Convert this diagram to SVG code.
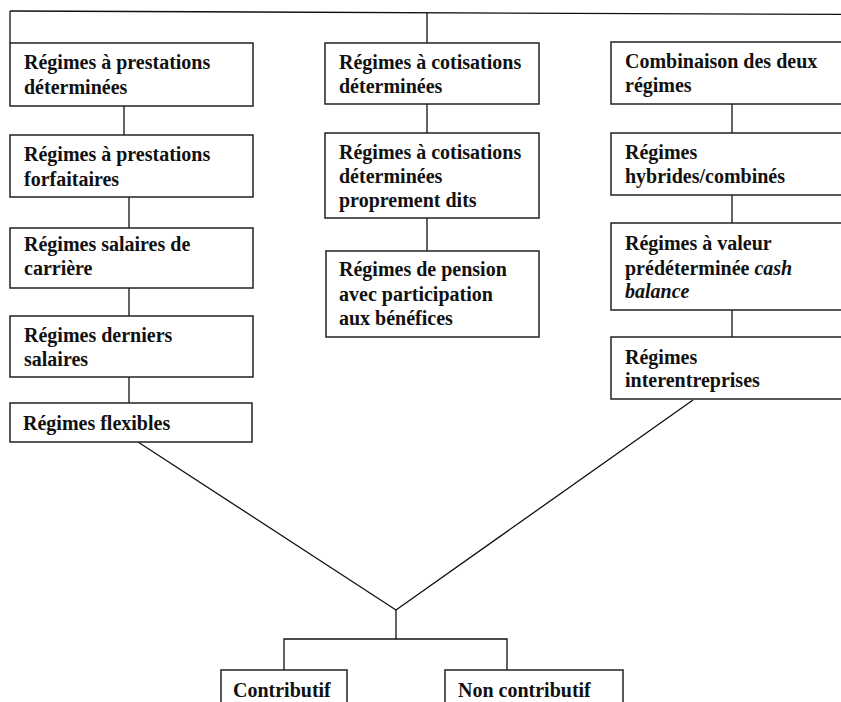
<svg xmlns="http://www.w3.org/2000/svg" width="841" height="702" viewBox="0 0 841 702">
<style>
rect.box{fill:#fff;stroke:#222;stroke-width:1.5}
.c line,.c polyline{stroke:#111;stroke-width:1.3;fill:none}
text{font-family:"Liberation Serif","Times New Roman",serif;font-weight:bold;font-size:20px;fill:#111}
.it{font-style:italic}
</style>
<rect width="841" height="702" fill="#fff"/>
<g id="connectors" class="c">
<line x1="10" y1="11" x2="850" y2="14.5"/>
<line x1="10" y1="11" x2="10" y2="43"/>
<line x1="427" y1="12.7" x2="427" y2="43"/>
<line x1="124" y1="106" x2="124" y2="135"/>
<line x1="129" y1="197" x2="129" y2="228"/>
<line x1="129" y1="288" x2="129" y2="316"/>
<line x1="129" y1="377" x2="129" y2="403"/>
<line x1="427" y1="104" x2="427" y2="133"/>
<line x1="427" y1="218" x2="427" y2="251"/>
<line x1="732" y1="104" x2="732" y2="133"/>
<line x1="732" y1="195" x2="732" y2="223"/>
<line x1="732" y1="308" x2="732" y2="337"/>
<polyline points="138,442 396,610 693,400"/>
<line x1="396" y1="610" x2="396" y2="639"/>
<polyline points="284,670 284,639 507,639 507,670"/>
</g>
<g id="n-prest-det"><rect class="box" x="10" y="43" width="243" height="63"/><text x="24" y="69">Régimes à prestations</text><text x="24" y="94">déterminées</text></g>
<g id="n-prest-forf"><rect class="box" x="10" y="135" width="243" height="62"/><text x="24" y="161">Régimes à prestations</text><text x="24" y="186">forfaitaires</text></g>
<g id="n-sal-carr"><rect class="box" x="10" y="228" width="243" height="60"/><text x="24" y="251">Régimes salaires de</text><text x="24" y="275">carrière</text></g>
<g id="n-dern-sal"><rect class="box" x="10" y="316" width="243" height="61"/><text x="24" y="342">Régimes derniers</text><text x="24" y="366">salaires</text></g>
<g id="n-flex"><rect class="box" x="10" y="403" width="242" height="39"/><text x="23" y="430">Régimes flexibles</text></g>
<g id="n-cot-det"><rect class="box" x="325" y="43" width="214" height="61"/><text x="339" y="69">Régimes à cotisations</text><text x="339" y="93">déterminées</text></g>
<g id="n-cot-det-pd"><rect class="box" x="325" y="133" width="214" height="85"/><text x="339" y="159">Régimes à cotisations</text><text x="339" y="183">déterminées</text><text x="339" y="207">proprement dits</text></g>
<g id="n-pension"><rect class="box" x="326" y="251" width="213" height="86"/><text x="339" y="276">Régimes de pension</text><text x="339" y="301">avec participation</text><text x="339" y="325">aux bénéfices</text></g>
<g id="n-comb"><rect class="box" x="611" y="42" width="240" height="62"/><text x="625" y="68">Combinaison des deux</text><text x="625" y="92">régimes</text></g>
<g id="n-hybr"><rect class="box" x="611" y="133" width="240" height="62"/><text x="625" y="159">Régimes</text><text x="625" y="183">hybrides/combinés</text></g>
<g id="n-cash"><rect class="box" x="611" y="223" width="240" height="87"/><text x="625" y="250">Régimes à valeur</text><text x="625" y="275">prédéterminée <tspan class="it">cash</tspan></text><text x="625" y="298" class="it">balance</text></g>
<g id="n-inter"><rect class="box" x="611" y="337" width="240" height="62"/><text x="625" y="364">Régimes</text><text x="625" y="387">interentreprises</text></g>
<g id="n-contrib"><rect class="box" x="221" y="670" width="126" height="45"/><text x="233" y="697">Contributif</text></g>
<g id="n-noncontrib"><rect class="box" x="445" y="670" width="178" height="45"/><text x="458" y="697">Non contributif</text></g>
</svg>
